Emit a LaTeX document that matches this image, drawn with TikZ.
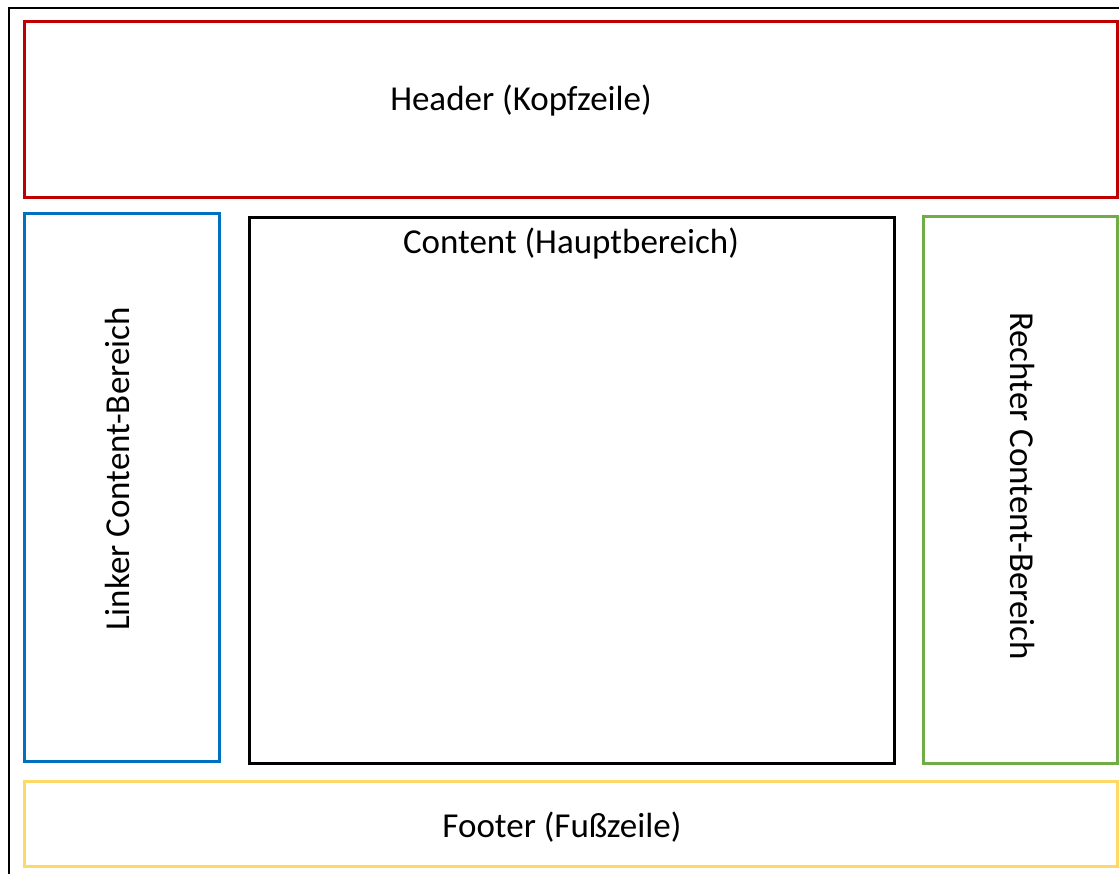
\documentclass[tikz,border=0pt]{standalone}
\usepackage{fontspec}
\setmainfont{Carlito}
\definecolor{hdrred}{HTML}{C00000}
\definecolor{leftblue}{HTML}{0070C0}
\definecolor{rightgreen}{HTML}{70AD47}
\definecolor{footyellow}{HTML}{FFD966}
\tikzset{
  area/.style={draw, line width=3pt, inner sep=0pt, outer sep=0pt, rectangle},
  lbl/.style={font=\fontsize{35}{42}\selectfont, inner sep=0pt, anchor=base},
}
\begin{document}
\begin{tikzpicture}[x=1pt, y=-1pt]
  \clip (0,0) rectangle (1119,874);
  \fill[white] (0,0) rectangle (1119,874);
  % page frame
  \draw[line width=2.2pt, black] (9,8) rectangle (1140,900);
  % layout regions
  \node[area, draw=hdrred, minimum width=1093pt, minimum height=176.5pt] (header) at (570.5,109.75) {};
  \node[area, draw=leftblue, minimum width=195pt, minimum height=547.5pt] (left) at (121.5,487.75) {};
  \node[area, draw=black, minimum width=645pt, minimum height=545.5pt] (content) at (572,490.25) {};
  \node[area, draw=rightgreen, minimum width=194pt, minimum height=547pt] (right) at (1020,490) {};
  \node[area, draw=footyellow, minimum width=1093pt, minimum height=85pt] (footer) at (570.5,824) {};
  % labels
  \node[lbl] (headertext) at (521,111) {Header (Kopfzeile)};
  \node[lbl] (contenttext) at (571,254) {Content (Hauptbereich)};
  \node[lbl, rotate=90] (lefttext) at (129,469) {Linker Content-Bereich};
  \node[lbl, rotate=-90] (righttext) at (1010,486) {Rechter Content-Bereich};
  \node[lbl] (footertext) at (562,837) {Footer (Fußzeile)};
\end{tikzpicture}
\end{document}
